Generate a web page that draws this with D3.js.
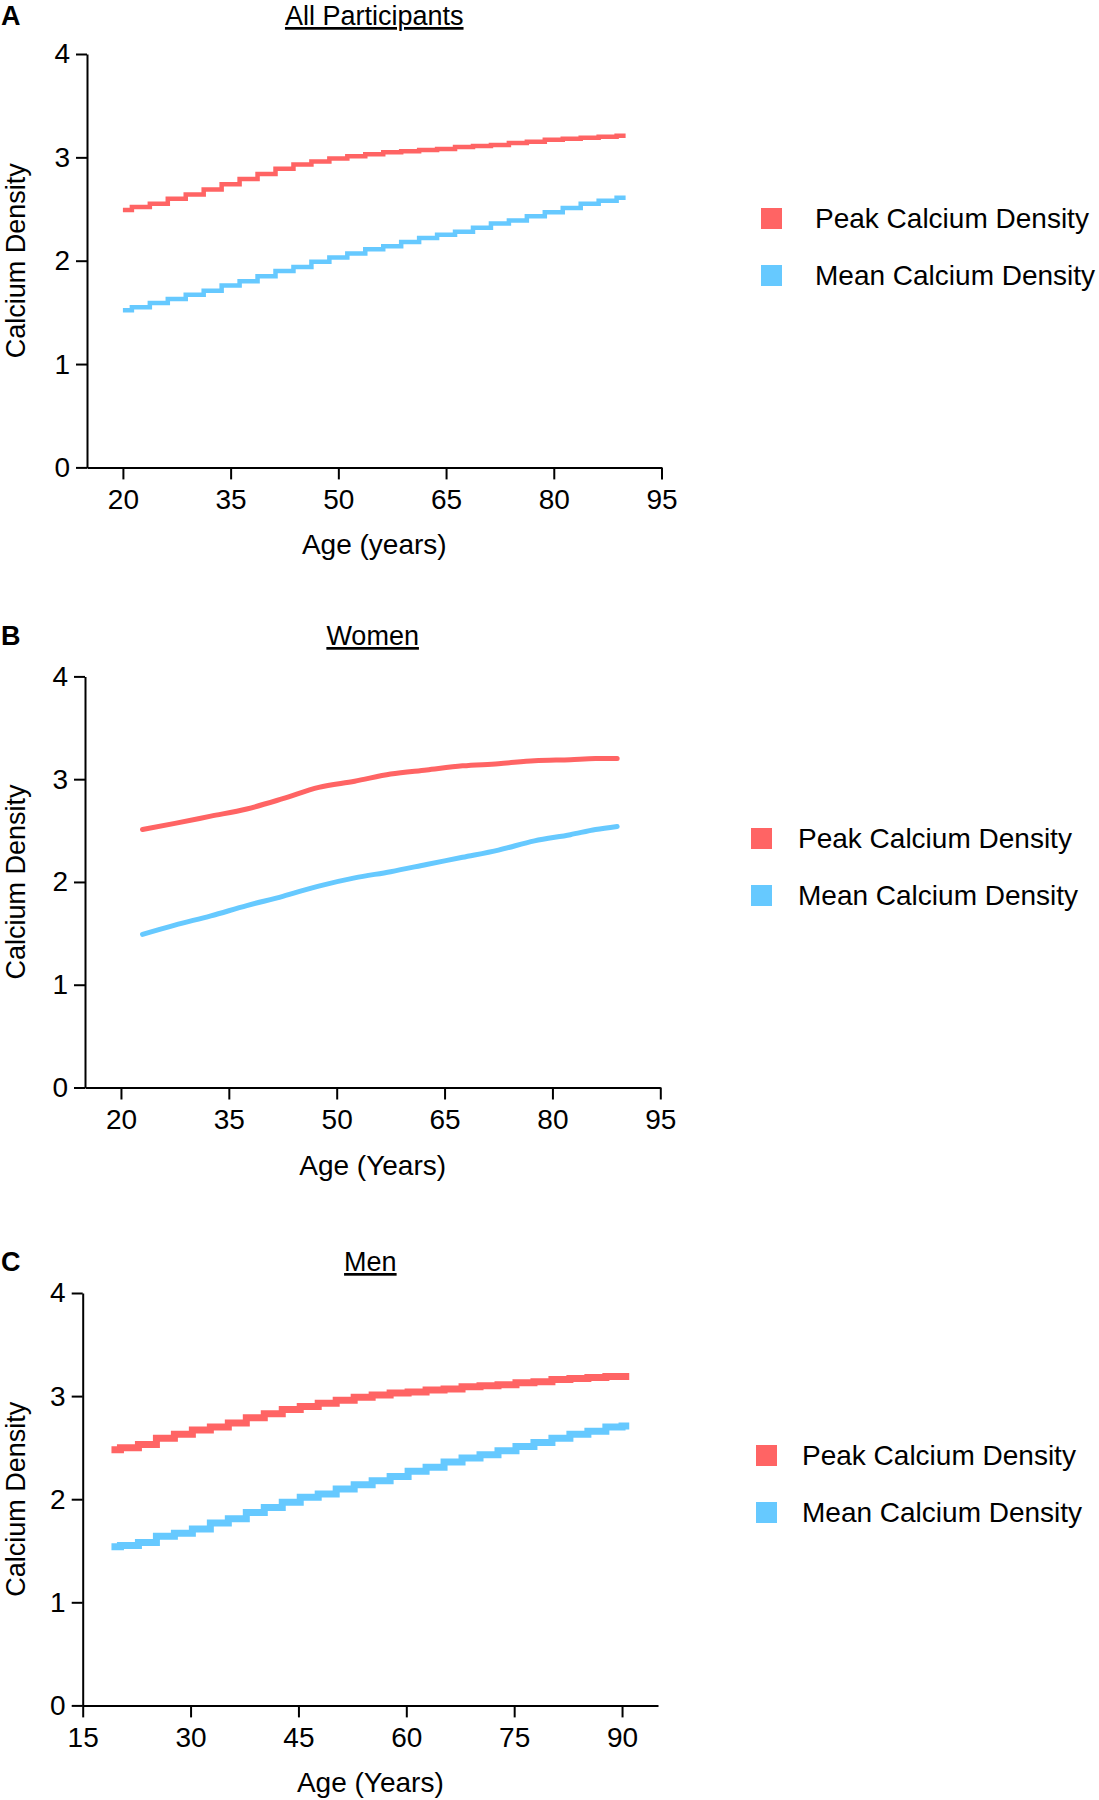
<!DOCTYPE html>
<html>
<head>
<meta charset="utf-8">
<script src="https://cdn.jsdelivr.net/npm/d3@7"></script>
<style>
body { margin: 0; background: #fff; }
svg { display: block; font-family: "Liberation Sans", Arial, Helvetica, sans-serif; }
</style>
</head>
<body>
<script>
// ---- data ----
const seriesNames = ["Peak Calcium Density", "Mean Calcium Density"];

// A: all participants
const agesA = [20, 22.5, 25, 27.5, 30, 32.5, 35, 37.5, 40, 42.5, 45, 47.5, 50, 52.5, 55,
               57.5, 60, 62.5, 65, 67.5, 70, 72.5, 75, 77.5, 80, 82.5, 85, 87.5, 90];
const peakA = [2.49, 2.52, 2.55, 2.60, 2.64, 2.69, 2.74, 2.79, 2.84, 2.89, 2.93, 2.96, 2.99, 3.01, 3.03,
               3.05, 3.06, 3.07, 3.08, 3.10, 3.11, 3.12, 3.14, 3.15, 3.17, 3.18, 3.19, 3.20, 3.21];
const meanA = [1.52, 1.55, 1.59, 1.63, 1.67, 1.71, 1.76, 1.80, 1.85, 1.90, 1.94, 1.99, 2.03, 2.07, 2.11,
               2.14, 2.18, 2.22, 2.25, 2.28, 2.32, 2.36, 2.39, 2.43, 2.47, 2.51, 2.55, 2.58, 2.61];

// B: women
const agesB = [23, 27.5, 32.5, 37.5, 42.5, 47.5, 52.5, 57.5, 62.5, 67.5, 72.5, 77.5, 82.5, 86, 89];
const peakB = [2.51, 2.57, 2.64, 2.71, 2.81, 2.92, 2.98, 3.05, 3.09, 3.13, 3.15, 3.18, 3.19, 3.20, 3.20];
const meanB = [1.49, 1.58, 1.67, 1.77, 1.86, 1.96, 2.04, 2.10, 2.17, 2.24, 2.31, 2.40, 2.46, 2.51, 2.54];

// C: men
const agesC = [19, 21.5, 24, 26.5, 29, 31.5, 34, 36.5, 39, 41.5, 44, 46.5, 49, 51.5, 54,
               56.5, 59, 61.5, 64, 66.5, 69, 71.5, 74, 76.5, 79, 81.5, 84, 86.5, 89, 91];
const peakC = [2.48, 2.50, 2.53, 2.59, 2.63, 2.67, 2.70, 2.74, 2.79, 2.83, 2.87, 2.90, 2.93, 2.96, 2.99,
               3.01, 3.03, 3.04, 3.06, 3.07, 3.09, 3.10, 3.11, 3.13, 3.14, 3.16, 3.17, 3.18, 3.19, 3.19];
const meanC = [1.54, 1.55, 1.58, 1.64, 1.67, 1.71, 1.77, 1.81, 1.87, 1.92, 1.97, 2.02, 2.05, 2.10, 2.14,
               2.18, 2.22, 2.27, 2.31, 2.36, 2.40, 2.43, 2.47, 2.51, 2.55, 2.59, 2.63, 2.66, 2.70, 2.71];

const ticksAB = [20, 35, 50, 65, 80, 95];
const ticksC = [15, 30, 45, 60, 75, 90];
const yTicks = [0, 1, 2, 3, 4];

const colors = ["#ff6464", "#66c9ff"];

// ---- layout of the three panels ----
const panels = [
  {letter: "A", title: "All Participants", xLabel: "Age (years)", ages: agesA, peak: peakA, mean: meanA,
   ticks: ticksAB, curve: d3.curveStep, lw: 4.5, cap: "butt",
   left: 87, right: 661.5, top: 54, bottom: 467.4, titleY: 25, legX: 761, legY: 208, legTextX: 815},
  {letter: "B", title: "Women", xLabel: "Age (Years)", ages: agesB, peak: peakB, mean: meanB,
   ticks: ticksAB, curve: d3.curveMonotoneX, lw: 5, cap: "round",
   left: 85, right: 660.3, top: 676.4, bottom: 1087.5, titleY: 645, legX: 751, legY: 828, legTextX: 798},
  {letter: "C", title: "Men", xLabel: "Age (Years)", ages: agesC, peak: peakC, mean: meanC,
   ticks: ticksC, curve: d3.curveStep, lw: 7, cap: "butt",
   left: 82.7, right: 658, top: 1293, bottom: 1705.4, titleY: 1271, legX: 756, legY: 1445, legTextX: 802}
];

const svg = d3.select("body").append("svg")
    .attr("width", 1099)
    .attr("height", 1800);

panels.forEach(function(p){
    let x = d3.scaleLinear().domain([15, 95]).range([p.left, p.right]);
    let y = d3.scaleLinear().domain([0, 4]).range([p.bottom, p.top]);
    let g = svg.append("g");

    // x axis
    let xa = g.append("g")
        .attr("transform", "translate(0," + p.bottom + ")")
        .call(d3.axisBottom(x).tickValues(p.ticks).tickSize(12).tickSizeOuter(0).tickPadding(10));

    // y axis
    let ya = g.append("g")
        .attr("transform", "translate(" + p.left + ",0)")
        .call(d3.axisLeft(y).tickValues(yTicks).tickFormat(d3.format("d"))
            .tickSize(11).tickSizeOuter(0).tickPadding(6));

    [xa, ya].forEach(function(a){
        a.attr("font-family", null).attr("font-size", 28);
        a.select(".domain").attr("stroke", "#000").attr("stroke-width", 2);
        a.selectAll(".tick line").attr("stroke", "#000").attr("stroke-width", 2);
        a.selectAll(".tick text").attr("fill", "#000");
    });

    // the two series
    let line = d3.line()
        .x(function(d){ return x(d[0]); })
        .y(function(d){ return y(d[1]); })
        .curve(p.curve);

    [p.peak, p.mean].forEach(function(vals, i){
        g.append("path")
            .datum(p.ages.map(function(a, j){ return [a, vals[j]]; }))
            .attr("fill", "none")
            .attr("stroke", colors[i])
            .attr("stroke-width", p.lw)
            .attr("stroke-linecap", p.cap)
            .attr("stroke-linejoin", p.cap === "round" ? "round" : "miter")
            .attr("d", line);
    });

    // title, panel letter, axis labels
    g.append("text")
        .attr("x", (p.left + p.right) / 2)
        .attr("y", p.titleY)
        .attr("text-anchor", "middle")
        .attr("font-size", 27)
        .style("text-decoration", "underline")
        .text(p.title);

    g.append("text")
        .attr("x", 1)
        .attr("y", p.titleY)
        .attr("font-size", 27)
        .attr("font-weight", "bold")
        .text(p.letter);

    g.append("text")
        .attr("x", (p.left + p.right) / 2)
        .attr("y", p.bottom + 87)
        .attr("text-anchor", "middle")
        .attr("font-size", 28)
        .text(p.xLabel);

    g.append("text")
        .attr("transform", "rotate(-90)")
        .attr("x", -(p.top + p.bottom) / 2)
        .attr("y", 25)
        .attr("text-anchor", "middle")
        .attr("font-size", 27)
        .text("Calcium Density");

    // legend
    seriesNames.forEach(function(name, i){
        g.append("rect")
            .attr("x", p.legX)
            .attr("y", p.legY + i * 57)
            .attr("width", 21)
            .attr("height", 21)
            .attr("fill", colors[i]);
        g.append("text")
            .attr("x", p.legTextX)
            .attr("y", p.legY + i * 57 + 20)
            .attr("font-size", 28)
            .text(name);
    });
});
</script>
</body>
</html>
